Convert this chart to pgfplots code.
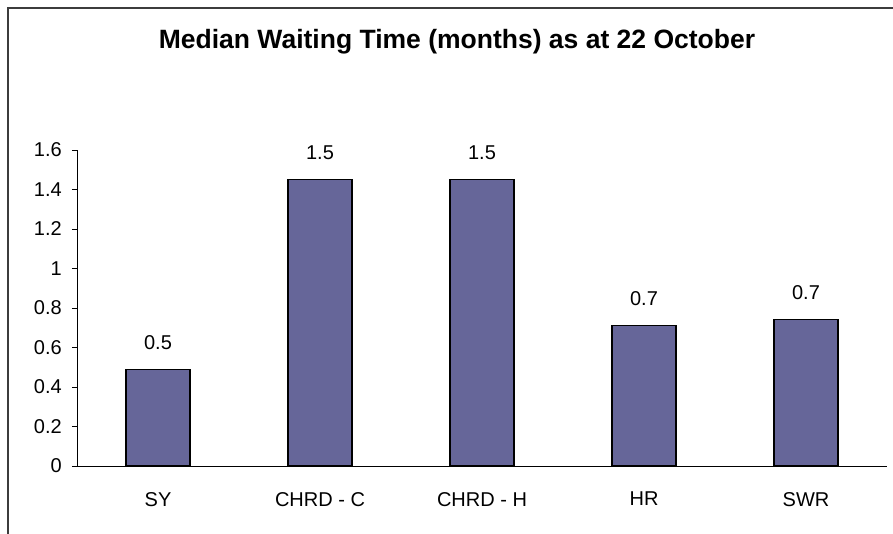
\documentclass[border=0pt]{standalone}
\usepackage{pgfplots}
\pgfplotsset{compat=1.18}
\usepackage{pgfplotstable}
\usepackage{fontspec}
\setmainfont{Liberation Sans}
\definecolor{barfill}{RGB}{102,102,153}
\definecolor{framecol}{RGB}{60,60,60}
\pgfplotstableread{
x y lab
0 0.49 0.5
1 1.45 1.5
2 1.45 1.5
3 0.71 0.7
4 0.74 0.7
}\datatab
\begin{document}
\begin{tikzpicture}[x=1pt,y=1pt]
\path[use as bounding box] (0,0) rectangle (893,534);
\draw[framecol, line width=2pt] (8,0) -- (8,526) -- (893,526);
\node[anchor=base, inner sep=0pt, font=\fontsize{26.5}{31}\selectfont\bfseries] at (457,485) {Median Waiting Time (months) as at 22 October};
\begin{axis}[
  at={(77pt,68pt)}, anchor=south west,
  width=810pt, height=316pt, scale only axis,
  xmin=-0.5, xmax=4.5, ymin=0, ymax=1.6,
  axis x line*=bottom, axis y line*=left,
  axis line style={-, black, line width=0.9pt},
  tick align=outside,
  major tick length=5pt,
  tick style={black, line width=0.9pt},
  ytick={0,0.2,...,1.6},
  xtick={0,1,2,3,4},
  xticklabels={SY, CHRD - C, CHRD - H, HR, SWR},
  x tick style={draw=none},
  extra x ticks={-0.5,0.5,1.5,2.5,3.5,4.5},
  extra x tick labels={},
  extra x tick style={tick style={draw=black, line width=0.9pt}, major tick length=5pt},
  /pgf/number format/assume math mode=true,
  ticklabel style={font=\fontsize{20}{24}\selectfont},
  yticklabel style={/pgf/number format/fixed},
  xticklabel style={inner sep=0pt, anchor=north, yshift=-21pt},
  yticklabel style={inner sep=0pt, anchor=east, xshift=-10pt},
  bar width=64pt,
  clip=false,
]
\addplot[ybar, fill=barfill, draw=black, line width=1.3pt,
  nodes near coords, point meta=explicit symbolic,
  every node near coord/.append style={font=\fontsize{20}{24}\selectfont, inner sep=0pt, anchor=south, yshift=19pt, text=black}]
  table[x=x, y=y, meta=lab] {\datatab};
\end{axis}
\end{tikzpicture}
\end{document}
